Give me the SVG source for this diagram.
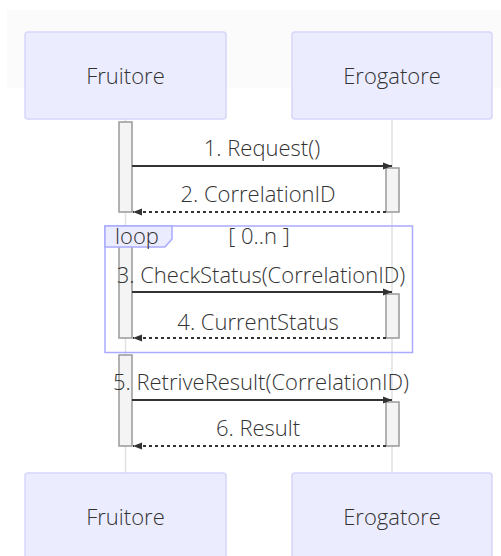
<svg xmlns="http://www.w3.org/2000/svg" width="501" height="556" viewBox="0 0 501 556">
<style>
text{font-family:"Open Sans","Liberation Sans",sans-serif;font-weight:300;fill:#333;font-size:22px;text-anchor:middle}
.actor rect{fill:#ececff;stroke:#d6d6fb;stroke-width:1.5}
.act{fill:#f4f4f4;stroke:#999;stroke-width:1.5}
.life{stroke:#e2e2e2;stroke-width:1.5}
.msg{stroke:#333;stroke-width:2;fill:none}
.dash{stroke-dasharray:3,3}
.loop{fill:none;stroke:#aaaaff;stroke-width:1.5}
.lbl{fill:#ececff;stroke:#aaaaff;stroke-width:1.5}
</style>
<defs>
<marker id="ah" viewBox="0 0 10 10" refX="10" refY="5" markerWidth="9" markerHeight="9" markerUnits="userSpaceOnUse" orient="auto">
<path d="M0,1 L10,5 L0,9 z" fill="#333"/>
</marker>
</defs>
<rect x="7" y="10" width="494" height="78" fill="#fbfbfb"/>
<g id="lifelines">
<line class="life" x1="125.5" y1="119" x2="125.5" y2="473"/>
<line class="life" x1="392" y1="119" x2="392" y2="473"/>
</g>
<g id="fruitore-top" class="actor"><rect x="25" y="32" width="201" height="87" rx="3"/><text x="125.5" y="84">Fruitore</text></g>
<g id="erogatore-top" class="actor"><rect x="292" y="32" width="200" height="87" rx="3"/><text x="392" y="84">Erogatore</text></g>
<g id="fruitore-bottom" class="actor"><rect x="25" y="473" width="201" height="87" rx="3"/><text x="125.5" y="525">Fruitore</text></g>
<g id="erogatore-bottom" class="actor"><rect x="292" y="473" width="200" height="87" rx="3"/><text x="392" y="525">Erogatore</text></g>
<g id="activations">
<rect class="act" x="119" y="122" width="13" height="90"/>
<rect class="act" x="386" y="168" width="13" height="44"/>
<rect class="act" x="119" y="232" width="13" height="106"/>
<rect class="act" x="386" y="294" width="13" height="44"/>
<rect class="act" x="119" y="355" width="13" height="91"/>
<rect class="act" x="386" y="402" width="13" height="44"/>
</g>
<g id="loop">
<rect class="loop" x="105" y="226" width="307.5" height="126.5"/>
<polygon class="lbl" points="105,226 172,226 172,239 165,247 105,247"/>
<text x="137" y="244">loop</text>
<text x="259" y="244">[ 0..n ]</text>
</g>
<g id="connectors">
<line class="msg" x1="132" y1="166" x2="392" y2="166" marker-end="url(#ah)"/>
<line class="msg dash" x1="386" y1="212" x2="133" y2="212" marker-end="url(#ah)"/>
<line class="msg" x1="132" y1="292" x2="392" y2="292" marker-end="url(#ah)"/>
<line class="msg dash" x1="386" y1="338" x2="133" y2="338" marker-end="url(#ah)"/>
<line class="msg" x1="132" y1="400" x2="392" y2="400" marker-end="url(#ah)"/>
<line class="msg dash" x1="386" y1="446" x2="133" y2="446" marker-end="url(#ah)"/>
<text x="262" y="156">1. Request()</text>
<text x="258" y="202">2. CorrelationID</text>
<text x="261" y="283">3. CheckStatus(CorrelationID)</text>
<text x="258" y="330">4. CurrentStatus</text>
<text x="261" y="390">5. RetriveResult(CorrelationID)</text>
<text x="258" y="436">6. Result</text>
</g>
</svg>
